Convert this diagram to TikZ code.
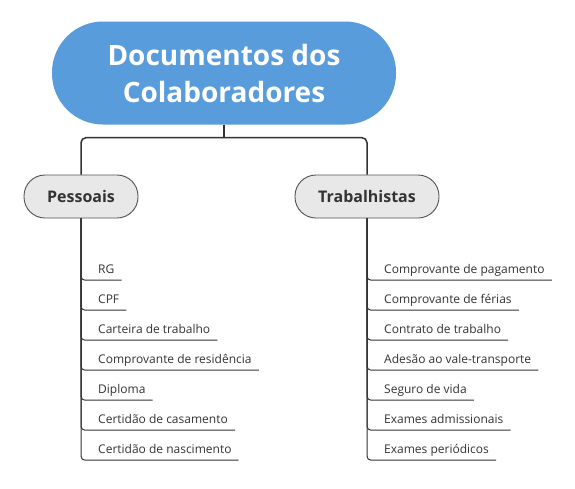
\documentclass[tikz,border=0pt]{standalone}
\usepackage{fontspec}
\setmainfont{Open Sans}
\usetikzlibrary{positioning}
\definecolor{rootblue}{HTML}{589CDB}
\definecolor{branchgray}{HTML}{E8E8E8}
\definecolor{inkgray}{HTML}{333333}
\tikzset{
  rootnode/.style={fill=rootblue, text=white, rounded corners=51pt, minimum width=344pt,
    minimum height=103pt, align=center, font=\fontsize{28}{37}\selectfont\bfseries},
  branchnode/.style={fill=branchgray, draw=inkgray!85, line width=0.9pt, rounded corners=21pt,
    minimum height=43pt, text=inkgray, font=\fontsize{16}{19}\selectfont\bfseries},
  leafnode/.style={text=inkgray, inner xsep=7pt, inner ysep=4pt, text height=8pt, text depth=3pt,
    font=\fontsize{12}{14}\selectfont},
  trunk/.style={draw=inkgray, line width=1.5pt, rounded corners=5pt},
  twig/.style={draw=inkgray, line width=1pt, rounded corners=4pt},
}
\begin{document}
\begin{tikzpicture}[x=1pt,y=-1pt]
\useasboundingbox (0,0) rectangle (575,488);

\node[rootnode] (root) at (224,73) {Documentos dos\\Colaboradores};

\node[branchnode, minimum width=114pt] (pes) at (81,196.5) {Pessoais};
\node[branchnode, minimum width=144pt] (trab) at (367,196.5) {Trabalhistas};

\coordinate (hub) at ([yshift=-13pt]root.south);
\draw[trunk] (root.south) -- (hub);
\draw[trunk] (hub) -| (pes.north);
\draw[trunk] (hub) -| (trab.north);

% pessoais
\node[leafnode, anchor=base west] (rg) at (91,273) {RG};
\node[leafnode, anchor=base west] (cpf) at (91,303) {CPF};
\node[leafnode, anchor=base west] (ctps) at (91,333) {Carteira de trabalho};
\node[leafnode, anchor=base west] (resid) at (91,363) {Comprovante de residência};
\node[leafnode, anchor=base west] (dipl) at (91,393) {Diploma};
\node[leafnode, anchor=base west] (casam) at (91,423) {Certidão de casamento};
\node[leafnode, anchor=base west] (nasc) at (91,453) {Certidão de nascimento};

\foreach \leaf in {rg,cpf,ctps,resid,dipl,casam,nasc}
  \draw[twig] (pes.south) |- (\leaf.south east);

% trabalhistas
\node[leafnode, anchor=base west] (pag) at (377,273) {Comprovante de pagamento};
\node[leafnode, anchor=base west] (ferias) at (377,303) {Comprovante de férias};
\node[leafnode, anchor=base west] (contr) at (377,333) {Contrato de trabalho};
\node[leafnode, anchor=base west] (vale) at (377,363) {Adesão ao vale-transporte};
\node[leafnode, anchor=base west] (seguro) at (377,393) {Seguro de vida};
\node[leafnode, anchor=base west] (admis) at (377,423) {Exames admissionais};
\node[leafnode, anchor=base west] (period) at (377,453) {Exames periódicos};

\foreach \leaf in {pag,ferias,contr,vale,seguro,admis,period}
  \draw[twig] (trab.south) |- (\leaf.south east);
\end{tikzpicture}
\end{document}
